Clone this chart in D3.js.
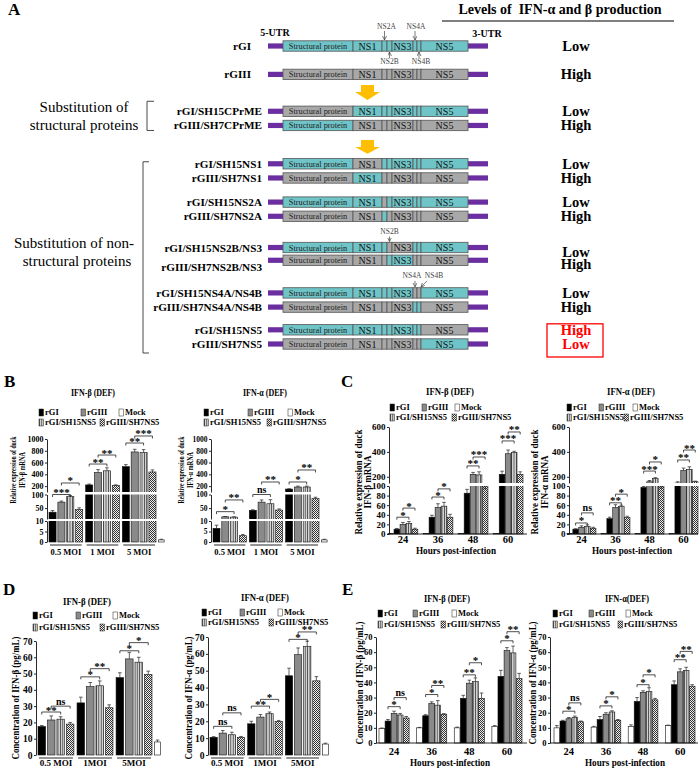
<!DOCTYPE html>
<html>
<head>
<meta charset="utf-8">
<script src="https://cdn.jsdelivr.net/npm/d3@7"></script>
<style>
  body { margin: 0; background: #fff; }
  svg { display: block; font-family: "Liberation Serif", "Times New Roman", serif; }
</style>
</head>
<body>
<svg id="fig" width="700" height="770"></svg>
<script>
// ---------- panel A data ----------
const genomeParts = ["Structural protein", "NS1", "NS2A", "NS2B", "NS3", "NS4A", "NS4B", "NS5"];
const partLength = [70, 29, 5, 5, 21, 4, 4, 47]; // schematic lengths
const constructs = [
  "rGI", "rGIII", "rGI/SH15CPrME", "rGIII/SH7CPrME", "rGI/SH15NS1", "rGIII/SH7NS1",
  "rGI/SH15NS2A", "rGIII/SH7NS2A", "rGI/SH15NS2B/NS3", "rGIII/SH7NS2B/NS3",
  "rGI/SH15NS4A/NS4B", "rGIII/SH7NS4A/NS4B", "rGI/SH15NS5", "rGIII/SH7NS5"
];
const swappedParts = [
  [], [], ["Structural protein"], ["Structural protein"], ["NS1"], ["NS1"],
  ["NS2A"], ["NS2A"], ["NS2B", "NS3"], ["NS2B", "NS3"],
  ["NS4A", "NS4B"], ["NS4A", "NS4B"], ["NS5"], ["NS5"]
];
const ifnLevel = ["Low", "High", "Low", "High", "Low", "High", "Low", "High", "Low", "High", "Low", "High", "High", "Low"];
const rowTrack = [0, 2, 4.6, 5.6, 8.3, 9.3, 11, 12, 14.2, 15.1, 17.4, 18.4, 20, 21];

// ---------- bar chart data ----------
const virusSeries = ["rGI", "rGIII", "rGI/SH15NS5", "rGIII/SH7NS5"];
const timeSeries = ["Mock", "rGI", "rGIII", "rGI/SH15NS5", "rGIII/SH7NS5"];
const moiGroupsB = ["0.5 MOI", "1 MOI", "5 MOI"];
const moiGroupsD = ["0.5 MOI", "1MOI", "5MOI"];
const hpiGroups = ["24", "36", "48", "60"];

// B: relative mRNA, rows follow virusSeries
const bBetaMean = [[35, 220, 530], [72, 430, 780], [92, 460, 770], [45, 210, 440]];
const bBetaErr = [[6, 15, 35], [4, 50, 45], [4, 50, 50], [6, 12, 35]];
const bBetaMock = [1, 0.3];
const bAlphaMean = [[6.5, 42, 150], [18, 72, 185], [17, 66, 185], [3, 43, 85]];
const bAlphaErr = [[1.5, 2, 5], [1, 8, 15], [1, 15, 15], [0.6, 4, 5]];
const bAlphaMock = [1, 0.3];
const bTicks = [[0, 5, 10], [50, 100], [200, 400, 600, 800, 1000]];

// C: relative mRNA by time, rows follow timeSeries
const cBetaMean = [[1, 1, 1, 1], [10, 35, 85, 220], [20, 55, 220, 385], [22, 58, 215, 395], [10, 35, 100, 220]];
const cBetaErr = [[0, 0, 0, 0], [1.5, 4, 8, 25], [4, 8, 15, 30], [4, 8, 25, 10], [2, 6, 4, 20]];
const cAlphaMean = [[1, 1, 1, 1], [10, 32, 97, 150], [14, 55, 160, 250], [16, 57, 185, 260], [12, 34, 100, 160]];
const cAlphaErr = [[0, 0, 0, 0], [1, 3, 2, 10], [3, 6, 10, 20], [3, 3, 8, 20], [2, 3, 8, 5]];
const cTicks = [[0, 20, 40, 60, 80, 100], [200, 400, 600]];

// D: protein (pg/mL) by MOI, rows follow virusSeries
const dBetaMean = [[17.5, 32, 47.5], [21.5, 42, 59], [22, 42.5, 57], [19, 29, 49.5]];
const dBetaErr = [[0.6, 3.5, 3], [2.5, 2.5, 4], [1.5, 3, 3], [1, 1.8, 2]];
const dBetaMock = [8, 1.2];
const dAlphaMean = [[10.5, 18.5, 47], [13, 22.5, 59.5], [12, 24.5, 64.5], [10.5, 20, 44]];
const dAlphaErr = [[0.4, 1.5, 4.5], [1.5, 1.5, 4], [1.5, 1, 3], [0.5, 0.5, 2.5]];
const dAlphaMock = [6.5, 0.5];

// E: protein (pg/mL) by time, rows follow timeSeries
const eBetaMean = [[9.5, 10, 10, 11], [14.5, 18, 29.5, 44], [19.5, 26, 39.5, 61], [18.5, 25, 40.5, 59.5], [16.5, 19, 29.5, 42.5]];
const eBetaErr = [[0.4, 0.3, 0.5, 0.5], [1, 0.7, 2, 4], [1.5, 1.2, 2, 2], [1, 3, 2.5, 4.5], [1, 0.4, 3.5, 3.5]];
const eAlphaMean = [[10, 10.5, 11, 11.5], [14.5, 15.5, 27.5, 38.5], [16, 19, 33.5, 47], [17, 20.5, 34, 48], [14, 15, 28.5, 37.5]];
const eAlphaErr = [[1.5, 0.5, 1, 0.3], [0.5, 2, 2.5, 2.5], [0.8, 1, 1, 2], [0.8, 0.8, 2.5, 2], [0.5, 0.5, 1, 1]];
const concTicks = [[0, 10, 20, 30, 40, 50, 60, 70]];

// significance: [group index, series a, series b, level, label]
const bBetaSig = [[0, "rGI", "rGI/SH15NS5", 100, "***"], [0, "rGIII", "rGIII/SH7NS5", 253, "*"],
  [1, "rGI", "rGI/SH15NS5", 575, "**"], [1, "rGIII", "rGIII/SH7NS5", 728, "**"],
  [2, "rGI", "rGI/SH15NS5", 932, "**"], [2, "rGIII", "rGIII/SH7NS5", 1051, "***"]];
const bAlphaSig = [[0, "rGI", "rGI/SH15NS5", 37, "*"], [0, "rGIII", "rGIII/SH7NS5", 80, "**"],
  [1, "rGI", "rGI/SH15NS5", 100, "ns"], [1, "rGIII", "rGIII/SH7NS5", 270, "**"],
  [2, "rGI", "rGI/SH15NS5", 270, "*"], [2, "rGIII", "rGIII/SH7NS5", 474, "**"]];
const cBetaSig = [[0, "rGI", "rGI/SH15NS5", 35, "*"], [0, "rGIII", "rGIII/SH7NS5", 54, "*"],
  [1, "rGI", "rGI/SH15NS5", 77, "*"], [1, "rGIII", "rGIII/SH7NS5", 94, "*"],
  [2, "rGI", "rGI/SH15NS5", 287, "**"], [2, "rGIII", "rGIII/SH7NS5", 359, "***"],
  [3, "rGI", "rGI/SH15NS5", 488, "***"], [3, "rGIII", "rGIII/SH7NS5", 560, "**"]];
const cAlphaSig = [[0, "rGI", "rGI/SH15NS5", 23, "*"], [0, "rGIII", "rGIII/SH7NS5", 44, "ns"],
  [1, "rGI", "rGI/SH15NS5", 65, "**"], [1, "rGIII", "rGIII/SH7NS5", 83, "*"],
  [2, "rGI", "rGI/SH15NS5", 246, "***"], [2, "rGIII", "rGIII/SH7NS5", 319, "*"],
  [3, "rGI", "rGI/SH15NS5", 335, "**"], [3, "rGIII", "rGIII/SH7NS5", 415, "**"]];
const dBetaSig = [[0, "rGI", "rGI/SH15NS5", 26.4, "**"], [0, "rGIII", "rGIII/SH7NS5", 30, "ns"],
  [1, "rGI", "rGI/SH15NS5", 48, "*"], [1, "rGIII", "rGIII/SH7NS5", 53, "**"],
  [2, "rGI", "rGI/SH15NS5", 64, "*"], [2, "rGIII", "rGIII/SH7NS5", 69, "*"]];
const dAlphaSig = [[0, "rGI", "rGI/SH15NS5", 17, "ns"], [0, "rGIII", "rGIII/SH7NS5", 25, "ns"],
  [1, "rGI", "rGI/SH15NS5", 29, "**"], [1, "rGIII", "rGIII/SH7NS5", 33, "*"],
  [2, "rGI", "rGI/SH15NS5", 68.6, "*"], [2, "rGIII", "rGIII/SH7NS5", 73, "**"]];
const eBetaSig = [[0, "rGI", "rGI/SH15NS5", 24, "*"], [0, "rGIII", "rGIII/SH7NS5", 30, "ns"],
  [1, "rGI", "rGI/SH15NS5", 32, "*"], [1, "rGIII", "rGIII/SH7NS5", 38, "**"],
  [2, "rGI", "rGI/SH15NS5", 45, "**"], [2, "rGIII", "rGIII/SH7NS5", 53, "*"],
  [3, "rGI", "rGI/SH15NS5", 67.5, "*"], [3, "rGIII", "rGIII/SH7NS5", 73.5, "**"]];
const eAlphaSig = [[0, "rGI", "rGI/SH15NS5", 21, "*"], [0, "rGIII", "rGIII/SH7NS5", 26.5, "ns"],
  [1, "rGI", "rGI/SH15NS5", 24.5, "*"], [1, "rGIII", "rGIII/SH7NS5", 30.5, "*"],
  [2, "rGI", "rGI/SH15NS5", 38.5, "*"], [2, "rGIII", "rGIII/SH7NS5", 45, "*"],
  [3, "rGI", "rGI/SH15NS5", 55, "**"], [3, "rGIII", "rGIII/SH7NS5", 60.5, "**"]];

// ---------- setup ----------
const SERIF = "'Liberation Serif','Times New Roman',serif";
const CYAN = "#6ec4c7";
const GREY = "#a8a8a8";
const PURPLE = "#6a2ea0";
const svg = d3.select("#fig");
const defs = svg.append("defs");

const stripes = defs.append("pattern").attr("id", "stripes")
  .attr("patternUnits", "userSpaceOnUse").attr("width", 2.4).attr("height", 4);
stripes.append("rect").attr("width", 2.4).attr("height", 4).attr("fill", "#d2d2d2");
stripes.append("rect").attr("width", 0.8).attr("height", 4).attr("fill", "#444");

const checker = defs.append("pattern").attr("id", "checker")
  .attr("patternUnits", "userSpaceOnUse").attr("width", 2).attr("height", 2);
checker.append("rect").attr("width", 2).attr("height", 2).attr("fill", "#eee");
checker.append("rect").attr("width", 1).attr("height", 1).attr("fill", "#333");
checker.append("rect").attr("x", 1).attr("y", 1).attr("width", 1).attr("height", 1).attr("fill", "#333");

defs.append("marker").attr("id", "tip")
  .attr("markerUnits", "userSpaceOnUse").attr("markerWidth", 5).attr("markerHeight", 5)
  .attr("refX", 4).attr("refY", 2).attr("orient", "auto")
  .append("path").attr("d", "M0,0 L4,2 L0,4").attr("fill", "none").attr("stroke", "#444").attr("stroke-width", 0.7);

const fills = {
  "Mock": "#fff",
  "rGI": "#000",
  "rGIII": "#8a8a8a",
  "rGI/SH15NS5": "url(#stripes)",
  "rGIII/SH7NS5": "url(#checker)",
};

function panelLetter(t, x, y) {
  svg.append("text").attr("x", x).attr("y", y).attr("font-size", 17)
    .attr("font-weight", "bold").text(t);
}

// ---------- panel A ----------
function drawPanelA() {
  const g = svg.append("g");
  const starts = [0, ...d3.cumsum(partLength)];
  const gx = d3.scaleLinear().domain([0, d3.sum(partLength)]).range([283, 468]);
  const ry = d3.scaleLinear().domain([0, 21]).range([46, 344]);
  const partMid = (name) => {
    const i = genomeParts.indexOf(name);
    return gx(starts[i] + partLength[i] / 2);
  };

  g.append("text").attr("x", 560).attr("y", 14).attr("text-anchor", "middle")
    .attr("font-size", 14).attr("font-weight", "bold").attr("xml:space", "preserve")
    .text("Levels of  IFN-\u03b1 and \u03b2 production");
  g.append("line").attr("x1", 442).attr("x2", 674).attr("y1", 21).attr("y2", 21)
    .attr("stroke", "#000").attr("stroke-width", 1.2);

  g.append("text").attr("x", 275).attr("y", 36).attr("text-anchor", "middle")
    .attr("font-size", 10).attr("font-weight", "bold").text("5-UTR");
  g.append("text").attr("x", 487).attr("y", 37).attr("text-anchor", "middle")
    .attr("font-size", 10).attr("font-weight", "bold").text("3-UTR");

  const rows = constructs.map((name, i) => ({
    name,
    gi: name.startsWith("rGI/") || name === "rGI",
    swapped: swappedParts[i],
    level: ifnLevel[i],
    y: ry(rowTrack[i]),
    i,
  }));

  const row = g.selectAll(".construct").data(rows).join("g")
    .attr("class", "construct")
    .attr("transform", (d) => `translate(0,${d.y})`);

  row.append("rect").attr("x", gx(0) - 15).attr("y", -2.6).attr("width", 15).attr("height", 5.2)
    .attr("fill", PURPLE);
  row.append("rect").attr("x", gx.range()[1]).attr("y", -2.6).attr("width", 20).attr("height", 5.2)
    .attr("fill", PURPLE);

  row.selectAll(".part")
    .data((d) => genomeParts.map((p, k) => ({ p, k, cyan: d.gi !== d.swapped.includes(p) })))
    .join("rect")
    .attr("class", "part")
    .attr("x", (d) => gx(starts[d.k]))
    .attr("width", (d) => gx(starts[d.k + 1]) - gx(starts[d.k]))
    .attr("y", -5.2).attr("height", 10.4)
    .attr("fill", (d) => (d.cyan ? CYAN : GREY))
    .attr("stroke", "#555").attr("stroke-width", 0.8);

  row.append("text").attr("x", partMid("Structural protein")).attr("y", 3)
    .attr("text-anchor", "middle").attr("font-size", 8.3).attr("fill", "#222")
    .text("Structural protein");
  ["NS1", "NS3", "NS5"].forEach((p) => {
    row.append("text").attr("x", partMid(p)).attr("y", 3.8)
      .attr("text-anchor", "middle").attr("font-size", 10).attr("fill", "#111").text(p);
  });

  row.append("text")
    .attr("x", (d) => (d.i < 2 ? 251 : 262))
    .attr("y", (d) => (d.name === "rGIII/SH7NS2B/NS3" ? 11 : 4))
    .attr("text-anchor", "end").attr("font-size", 11.2).attr("font-weight", "bold")
    .text((d) => d.name);

  row.append("text").attr("x", 576)
    .attr("y", (d) => (d.name.includes("NS2B") ? 9 : 5))
    .attr("text-anchor", "middle").attr("font-size", 14.5).attr("font-weight", "bold")
    .attr("fill", (d) => (d.i >= 12 ? "#ff0000" : "#000"))
    .text((d) => d.level);

  g.append("rect").attr("x", 547).attr("y", ry(20) - 6).attr("width", 56).attr("height", ry(21) - ry(20) + 19)
    .attr("fill", "none").attr("stroke", "#ff0000").attr("stroke-width", 1.3);

  // small annotation arrows
  const note = (text, x, y) => g.append("text").attr("x", x).attr("y", y).attr("text-anchor", "middle")
    .attr("font-size", 7.5).attr("fill", "#444").text(text);
  const arrow = (x1, y1, x2, y2) => g.append("line").attr("x1", x1).attr("y1", y1).attr("x2", x2).attr("y2", y2)
    .attr("stroke", "#444").attr("stroke-width", 0.7).attr("marker-end", "url(#tip)");
  const y0 = ry(0);
  note("NS2A", partMid("NS2A") + 2, y0 - 17);
  arrow(partMid("NS2A"), y0 - 15, partMid("NS2A"), y0 - 6);
  note("NS4A", partMid("NS4A") + 1, y0 - 17);
  arrow(partMid("NS4A"), y0 - 15, partMid("NS4A"), y0 - 6);
  arrow(partMid("NS2B"), y0 + 12, partMid("NS2B"), y0 + 6);
  note("NS2B", partMid("NS2B"), y0 + 18);
  arrow(partMid("NS4B"), y0 + 12, partMid("NS4B"), y0 + 6);
  note("NS4B", partMid("NS4B") + 2, y0 + 18);
  const y8 = ry(rowTrack[8]);
  note("NS2B", partMid("NS2B"), y8 - 14);
  arrow(partMid("NS2B"), y8 - 11, partMid("NS2B"), y8 - 6);
  const y10 = ry(rowTrack[10]);
  note("NS4A", partMid("NS4A") - 3, y10 - 15);
  note("NS4B", partMid("NS4B") + 15, y10 - 15);
  arrow(partMid("NS4A"), y10 - 12, partMid("NS4A"), y10 - 6);
  arrow(partMid("NS4B") + 8, y10 - 12, partMid("NS4B") + 2, y10 - 6);

  // yellow down arrows
  [[2.75, 3.8], [6.62, 7.6]].forEach(([t0, t1]) => {
    const cx = partMid("NS1");
    const top = ry(t0), tip = ry(t1), neck = top + 7;
    g.append("path")
      .attr("d", `M${cx - 6.5},${top} H${cx + 6.5} V${neck} H${cx + 12.5} L${cx},${tip} L${cx - 12.5},${neck} H${cx - 6.5} Z`)
      .attr("fill", "#ffbe00");
  });

  // brackets and group captions
  const bracket = (x, yTop, yBot, w) => g.append("path")
    .attr("d", `M${x + w},${yTop} H${x} V${yBot} H${x + w}`)
    .attr("fill", "none").attr("stroke", "#333").attr("stroke-width", 0.9);
  bracket(147, ry(4.6) - 10, ry(5.6) + 5, 7);
  bracket(143, ry(8.3) - 2, ry(21) + 9, 6);

  const caption = (text, x, y) => g.append("text").attr("x", x).attr("y", y).attr("text-anchor", "middle")
    .attr("font-size", 15).text(text);
  caption("Substitution of", 84, 112);
  caption("structural proteins", 84, 130);
  caption("Substitution of non-", 74, 248);
  caption("structural proteins", 77, 266);
}

// ---------- bar charts ----------
function makeY(segs) {
  const scales = segs.map((s) => d3.scaleLinear().domain(s.d).range(s.r));
  const f = (v) => {
    for (let i = 0; i < segs.length; i++) {
      if (v <= segs[i].d[1] || i === segs.length - 1) return scales[i](v);
    }
  };
  f.scales = scales;
  return f;
}

function drawChart(c) {
  const g = svg.append("g");
  const y = makeY(c.segs);
  const x0 = d3.scaleBand().domain(c.groups).range(c.xr).paddingInner(c.padGroup);
  const x1 = d3.scaleBand().domain(c.series).range([0, x0.bandwidth()]).paddingInner(c.padBar);
  const cx = (gn, s) => x0(gn) + x1(s) + x1.bandwidth() / 2;
  const xEnd = c.xEnd;

  const data = c.groups.flatMap((gn, gi) =>
    c.series.map((s, si) => ({ gn, s, v: c.mean[si][gi], e: c.err[si][gi], x: x0(gn) + x1(s), w: x1.bandwidth() }))
  );
  if (c.mock) {
    data.push({ gn: null, s: "Mock", v: c.mock[0], e: c.mock[1], x: c.xr[1] + 2.5, w: x1.bandwidth() * 0.8 });
  }

  g.selectAll(".bar").data(data).join("rect")
    .attr("class", "bar")
    .attr("x", (d) => d.x).attr("width", (d) => d.w)
    .attr("y", (d) => y(d.v)).attr("height", (d) => y(0) - y(d.v))
    .attr("fill", (d) => fills[d.s]).attr("stroke", "#111").attr("stroke-width", 0.6);

  // white bands where the axis is broken
  for (let i = 0; i < c.segs.length - 1; i++) {
    g.append("rect").attr("x", c.ax + 1).attr("width", xEnd - c.ax)
      .attr("y", c.segs[i + 1].r[0]).attr("height", c.segs[i].r[1] - c.segs[i + 1].r[0])
      .attr("fill", "#fff");
  }

  // error bars
  const eb = g.selectAll(".err").data(data.filter((d) => d.e > 0)).join("g").attr("class", "err");
  eb.append("line").attr("x1", (d) => d.x + d.w / 2).attr("x2", (d) => d.x + d.w / 2)
    .attr("y1", (d) => y(d.v)).attr("y2", (d) => y(d.v + d.e))
    .attr("stroke", "#222").attr("stroke-width", 0.7);
  eb.append("line").attr("x1", (d) => d.x + d.w / 2 - 1.8).attr("x2", (d) => d.x + d.w / 2 + 1.8)
    .attr("y1", (d) => y(d.v + d.e)).attr("y2", (d) => y(d.v + d.e))
    .attr("stroke", "#222").attr("stroke-width", 0.7);

  // y axis, one piece per segment
  y.scales.forEach((s, i) => {
    const a = g.append("g").attr("transform", `translate(${c.ax},0)`)
      .call(d3.axisLeft(s).tickValues(c.ticks[i]).tickFormat(d3.format("d"))
        .tickSize(2).tickSizeOuter(0).tickPadding(1.5));
    a.attr("font-family", SERIF).attr("font-size", c.tickSize).attr("font-weight", "bold");
    a.selectAll("path, line").attr("stroke", "#111").attr("stroke-width", 0.9);
  });

  // x axis
  if (c.kind === "time") {
    g.append("line").attr("x1", c.ax).attr("x2", xEnd).attr("y1", y(0)).attr("y2", y(0))
      .attr("stroke", "#111").attr("stroke-width", 0.9);
    g.selectAll(".xl").data(c.groups).join("text")
      .attr("x", (d) => x0(d) + x0.bandwidth() / 2).attr("y", y(0) + c.xlabDy)
      .attr("text-anchor", "middle").attr("font-size", 10.5).attr("font-weight", "bold").text((d) => d);
    g.append("text").attr("x", c.hoursX).attr("y", y(0) + c.hoursDy).attr("text-anchor", "middle")
      .attr("font-size", 10.5).attr("font-weight", "bold")
      .attr("textLength", 80).attr("lengthAdjust", "spacingAndGlyphs").text("Hours post-infection");
  } else {
    g.selectAll(".gl").data(c.groups).join("line")
      .attr("x1", (d) => x0(d) + 1).attr("x2", (d) => x0(d) + x0.bandwidth() - 1)
      .attr("y1", y(0) + 3).attr("y2", y(0) + 3).attr("stroke", "#111").attr("stroke-width", 0.9);
    g.selectAll(".xl").data(c.groups).join("text")
      .attr("x", (d) => x0(d) + x0.bandwidth() / 2).attr("y", y(0) + c.xlabDy)
      .attr("text-anchor", "middle").attr("font-size", c.groupFont).attr("font-weight", "bold").text((d) => d);
  }

  // significance brackets
  const sg = g.selectAll(".sig").data(c.sig).join("g").attr("class", "sig");
  sg.append("path").attr("d", (d) => {
    const a = cx(c.groups[d[0]], d[1]), b = cx(c.groups[d[0]], d[2]), yy = y(d[3]);
    return `M${a},${yy + 2.5} V${yy} H${b} V${yy + 2.5}`;
  }).attr("fill", "none").attr("stroke", "#222").attr("stroke-width", 0.8);
  sg.append("text")
    .attr("x", (d) => (cx(c.groups[d[0]], d[1]) + cx(c.groups[d[0]], d[2])) / 2)
    .attr("y", (d) => y(d[3]) + (d[4] === "ns" ? -1.5 : 1.5))
    .attr("text-anchor", "middle").attr("font-weight", "bold")
    .attr("font-size", (d) => (d[4] === "ns" ? 10 : 11))
    .text((d) => d[4]);

  // title
  g.append("text").attr("x", c.title[1]).attr("y", c.title[2]).attr("text-anchor", "middle")
    .attr("font-size", 10.5).attr("font-weight", "bold")
    .attr("textLength", c.title[3]).attr("lengthAdjust", "spacingAndGlyphs").text(c.title[0]);

  // legend
  const legendOrder = ["rGI", "rGIII", "Mock", "rGI/SH15NS5", "rGIII/SH7NS5"];
  const lg = g.selectAll(".lg").data(legendOrder).join("g").attr("class", "lg")
    .attr("transform", (d, i) => `translate(${c.legendX[i]},${i < 3 ? c.legendY[0] : c.legendY[1]})`);
  lg.append("rect").attr("x", 0).attr("y", -6).attr("width", 4.5).attr("height", 7)
    .attr("fill", (d) => fills[d]).attr("stroke", "#222").attr("stroke-width", 0.5);
  lg.append("text").attr("x", 6).attr("y", 0).attr("font-size", 8.5).attr("font-weight", "bold")
    .text((d) => d);

  // y axis title
  c.yTitle.forEach(([text, x, len, size]) => {
    g.append("text").attr("transform", `translate(${x},${c.yTitleY}) rotate(-90)`)
      .attr("text-anchor", "middle").attr("font-size", size).attr("font-weight", "bold")
      .attr("textLength", len).attr("lengthAdjust", "spacingAndGlyphs").text(text);
  });
}

drawPanelA();
panelLetter("A", 8, 15);
panelLetter("B", 4, 387);
panelLetter("C", 341, 387);
panelLetter("D", 3, 595);
panelLetter("E", 342, 595);

const bSegs = [{ d: [0, 10], r: [542, 521] }, { d: [10, 100], r: [519, 494.5] }, { d: [100, 1000], r: [492, 439] }];
const cSegs = [{ d: [0, 100], r: [534, 486] }, { d: [150, 600], r: [483, 427] }];

drawChart({
  kind: "moi", groups: moiGroupsB, series: virusSeries, mean: bBetaMean, err: bBetaErr, mock: bBetaMock,
  segs: bSegs, ticks: bTicks, ax: 47, xr: [49, 156], xEnd: 165, padGroup: 0.08, padBar: 0.2,
  tickSize: 8, groupFont: 8.5, xlabDy: 13, sig: bBetaSig,
  title: ["IFN-\u03b2 (DEF)", 93, 396, 44], legendX: [39, 81, 119, 39, 100], legendY: [415, 425],
  yTitle: [["Relative expression of duck", 16, 67, 8.5], ["IFN-\u03b2 mRNA", 25, 36, 8.5]], yTitleY: 470,
});
drawChart({
  kind: "moi", groups: moiGroupsB, series: virusSeries, mean: bAlphaMean, err: bAlphaErr, mock: bAlphaMock,
  segs: bSegs, ticks: bTicks, ax: 211, xr: [213, 319], xEnd: 329, padGroup: 0.08, padBar: 0.2,
  tickSize: 7.5, groupFont: 8.5, xlabDy: 13, sig: bAlphaSig,
  title: ["IFN-\u03b1 (DEF)", 265, 396, 44], legendX: [204, 248, 288, 204, 267], legendY: [415, 425],
  yTitle: [["Relative expression of duck", 184, 67, 8.5], ["IFN-\u03b1 mRNA", 193, 36, 8.5]], yTitleY: 470,
});
drawChart({
  kind: "time", groups: hpiGroups, series: timeSeries, mean: cBetaMean, err: cBetaErr,
  segs: cSegs, ticks: cTicks, ax: 389, xr: [388, 523], xEnd: 527, padGroup: 0.15, padBar: 0.06,
  tickSize: 9, xlabDy: 9, hoursX: 456, hoursDy: 20, sig: cBetaSig,
  title: ["IFN-\u03b2 (DEF)", 450, 395, 48], legendX: [390, 422, 455, 390, 452], legendY: [410, 420],
  yTitle: [["Relative expression of duck", 362, 105, 9.5], ["IFN-\u03b2 mRNA", 370.5, 53, 9.5]], yTitleY: 482,
});
drawChart({
  kind: "time", groups: hpiGroups, series: timeSeries, mean: cAlphaMean, err: cAlphaErr,
  segs: cSegs, ticks: cTicks, ax: 569, xr: [567, 698], xEnd: 698, padGroup: 0.15, padBar: 0.06,
  tickSize: 9, xlabDy: 9, hoursX: 632, hoursDy: 20, sig: cAlphaSig,
  title: ["IFN-\u03b1 (DEF)", 631, 395, 48], legendX: [567, 599, 633, 567, 624], legendY: [410, 420],
  yTitle: [["Relative expression of duck", 538, 105, 9.5], ["IFN-\u03b1 mRNA", 548, 53, 9.5]], yTitleY: 482,
});
drawChart({
  kind: "moi", groups: moiGroupsD, series: virusSeries, mean: dBetaMean, err: dBetaErr, mock: dBetaMock,
  segs: [{ d: [0, 70], r: [755, 641] }], ticks: concTicks, ax: 36, xr: [38, 152], xEnd: 162,
  padGroup: 0.08, padBar: 0.2, tickSize: 9.5, groupFont: 9, xlabDy: 11, sig: dBetaSig,
  title: ["IFN-\u03b2 (DEF)", 87, 605, 48], legendX: [33, 76, 113, 33, 100], legendY: [618, 630],
  yTitle: [["Concentration of IFN-\u03b2 (pg/mL)", 19, 123, 10]], yTitleY: 698,
});
drawChart({
  kind: "moi", groups: moiGroupsD, series: virusSeries, mean: dAlphaMean, err: dAlphaErr, mock: dAlphaMock,
  segs: [{ d: [0, 70], r: [755, 637] }], ticks: concTicks, ax: 208, xr: [210, 320], xEnd: 330,
  padGroup: 0.08, padBar: 0.2, tickSize: 9.5, groupFont: 9, xlabDy: 11, sig: dAlphaSig,
  title: ["IFN-\u03b1 (DEF)", 265, 601, 48], legendX: [202, 240, 278, 202, 269], legendY: [615, 625],
  yTitle: [["Concentration of IFN-\u03b1 (pg/mL)", 192, 123, 10]], yTitleY: 698,
});
drawChart({
  kind: "time", groups: hpiGroups, series: timeSeries, mean: eBetaMean, err: eBetaErr,
  segs: [{ d: [0, 70], r: [743, 637] }], ticks: concTicks, ax: 376, xr: [379, 522], xEnd: 527,
  padGroup: 0.2, padBar: 0.06, tickSize: 8.5, xlabDy: 12, hoursX: 450, hoursDy: 23, sig: eBetaSig,
  title: ["IFN-\u03b2 (DEF)", 447, 602, 46], legendX: [378, 413, 452, 378, 441], legendY: [616, 627],
  yTitle: [["Concentration of IFN-\u03b2 (pg/mL)", 363, 123, 10]], yTitleY: 683,
});
drawChart({
  kind: "time", groups: hpiGroups, series: timeSeries, mean: eAlphaMean, err: eAlphaErr,
  segs: [{ d: [0, 70], r: [743, 637] }], ticks: concTicks, ax: 550, xr: [554, 695], xEnd: 698,
  padGroup: 0.2, padBar: 0.06, tickSize: 8.5, xlabDy: 12, hoursX: 625, hoursDy: 23, sig: eAlphaSig,
  title: ["IFN-\u03b1(DEF)", 627, 602, 44], legendX: [553, 589, 626, 553, 618], legendY: [616, 627],
  yTitle: [["Concentration of IFN-\u03b1 (pg/mL)", 536, 123, 10]], yTitleY: 683,
});
</script>
</body>
</html>
